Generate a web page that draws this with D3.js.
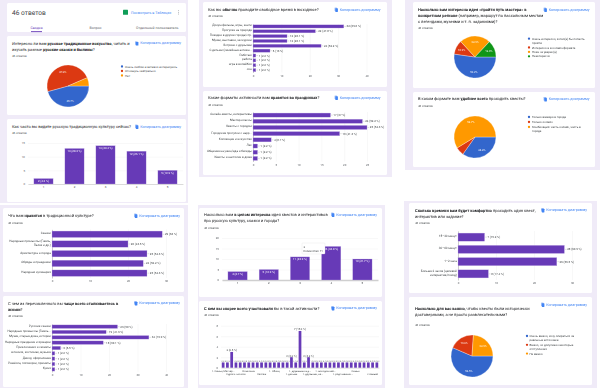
<!DOCTYPE html>
<html><head><meta charset="utf-8">
<script src="https://cdn.jsdelivr.net/npm/d3@7"></script>
<style>
html,body{margin:0;padding:0;background:#fff}
svg{display:block;font-family:Roboto,sans-serif;text-rendering:geometricPrecision;filter:blur(.3px)}
</style></head><body><svg id="c" width="600" height="388"></svg>
<script>
// ---------- data ----------
const responses = "46 ответов";
const copyLabel = "Копировать диаграмму";
const tabLabels = ["Сводка","Вопрос","Отдельный пользователь"];
const pieColors = ["#3366cc","#dc3912","#ff9900","#109618"];

const interestCats = ["Очень люблю и активно интересуюсь","Отношусь нейтрально","Нет"];
const interestVals = [45.7,47.8,6.5];
const masterCats = ["Очень интересно, хотел(а) бы попасть\nпройти","Интересно и в онлайн-формате","Пока не уверен(а)","Неинтересно"];
const masterVals = [52.2,10.9,23.9,13.0];
const formatCats = ["Только вживую в городе","Только онлайн","Комбинация: часть онлайн, часть в\nгороде"];
const formatVals = [34.8,6.5,58.7];
const accuracyCats = ["Очень важно, хочу опираться на\nреальные источники","Важно, но допускаю некоторые\nотступления","Не важно"];
const accuracyVals = [56.5,19.6,23.9];

const seeCats = ["1","2","3","4","5"];
const seeVals = [2,13,14,12,5];
const seePct = ["4.3","28.3","30.4","26.1","10.9"];
const questCats = ["1","2","3","4","5"];
const questVals = [4,5,11,16,10];
const questPct = ["8.7","10.9","23.9","34.8","21.7"];

const weekendCats = ["Докум.фильмы, игры, книги","Прогулки на природе","Поездки в другие города/стр.","Музеи, выставки, экскурсии","Встречи с друзьями","С детьми (семейные активн...","Работаю","работа","игра в волейбол","сон"];
const weekendVals = [32,22,12,12,24,6,1,1,1,1];
const weekendPct = ["69.6","47.8","26.1","26.1","52.2","13","2.2","2.2","2.2","2.2"];
const activityCats = ["Онлайн-квесты, интерактивы","Мастер-классы","Квесты с городом","Городские прогулки с нарр...","Коллекции и искусство","Лес","Общение на ужин/еда и беседы","Квесты и настолки в доме"];
const activityVals = [17,24,25,19,4,1,1,1];
const activityPct = ["37","52.2","54.3","41.3","8.7","2.2","2.2","2.2"];
const cultureCats = ["Сказки","Народные промыслы (Гжель,\nПалех и др.)","Архитектура и города","Обряды и праздники","Народная кулинария"];
const cultureVals = [29,20,25,24,25];
const culturePct = ["63","43.5","54.3","52.2","54.3"];
const meetCats = ["Русские сказки","Народные промыслы (Гжель...","Музеи, старые дома, истории","Народные праздники и ярмарки","Приключения и сюжеты","в песнях, костюмах, музыке","Декор, оформление","Ремёсла, поговорки, приметы","Кухня"];
const meetVals = [23,19,34,18,3,1,1,1,1];
const meetPct = ["50","41.3","73.9","39.1","6.5","2.2","2.2","2.2","2.2"];
const timeCats = ["15–30 минут","30–60 минут","1–2 часа","Больше 2 часов (целевой\nинтерактив/поход)"];
const timeVals = [7,28,26,8];
const timePct = ["15.2","60.9","56.5","17.4"];

const partnerCats = ["1. Семья, Мастер...","С друзьями","С детьми","Сдрасл. молоск","С семьёй","С парой","Компания","С коллегами","С подругой","Пассаж","С родителями","С классом","1. Облиц","С группой","Одна","С сестрой","1. детьми","С мужем","1. дружными в д...","С братом","С внуками","1. друзьями, на...","С гидом","С туристами","1. молодая ней...","С соседями","С женой","С ребёнком","1. родственник...","С коллективом","С клубом","Семья","С мамой","С близкими","С дочерью","с семьей","С сыном"];
const partnerVals = [1,1,3,1,1,1,1,1,1,1,1,1,1,1,1,1,2,1,7,1,2,1,1,1,1,1,1,1,1,1,1,1,1,1,1,1,1];
const partnerPct  = ["2.2","2.2","6.5","2.2","2.2","2.2","2.2","2.2","2.2","2.2","2.2","2.2","2.2","2.2","2.2","2.2","4.3","2.2","15.2","2.2","4.3","2.2","2.2","2.2","2.2","2.2","2.2","2.2","2.2","2.2","2.2","2.2","2.2","2.2","2.2","2.2","2.2"];
const partnerShown = [0,3,6,9,12,16,18,21,24,28,31,35];

const titleInterest = ["Интересно ли вам **русское традиционное искусство**, читать и","изучать разные **русские сказки и былины**?"];
const titleSee = ["Как часто вы видите русскую традиционную культуру сейчас?"];
const titleWeekend = ["Как вы **обычно** проводите свободное время в выходные?"];
const titleActivity = ["Какие форматы активности вам **нравятся во праздниках**?"];
const titleMaster = ["**Насколько вам интересна идея «пройти путь мастера» в**","**конкретном регионе** (например, маршрут по пасхальным местам","с легендами, музеями и т. п. заданиями)?"];
const titleFormat = ["В каком формате вам **удобнее всего** проходить квесты?"];
const titleCulture = ["Что вам **нравится** в традиционной культуре?"];
const titleMeet = ["С чем из перечисленного вы **чаще всего сталкиваетесь в**","**жизни**?"];
const titleQuest = ["Насколько вам **в целом интересна** идея квестов и интерактивов","про русскую культуру, сказки и города?"];
const titlePartner = ["**С кем вы скорее всего участвовали** бы в такой активности?"];
const titleTime = ["**Сколько времени вам будет комфортно** проходить один квест,","интерактив или задание?"];
const titleAccuracy = ["**Насколько для вас важно**, чтобы квесты были исторически","достоверными, а не просто развлекательными?"];

// ---------- helpers ----------
const svg = d3.select("#c");
const INK="#3c4043", SOFT="#70757a", AXIS="#5f6368", BLUE="#4285f4", BAR="#673ab7", LAV="#f0ebf8", GRID="#eeeeee";

function box(x,y,w,h,fill,r){ svg.append("rect").attr("x",x).attr("y",y).attr("width",w).attr("height",h).attr("rx",r||0).attr("fill",fill); }
function rich(x,y,line,size,color){
  const t=svg.append("text").attr("x",x).attr("y",y).attr("font-size",size).attr("fill",color);
  line.split("**").forEach((s,i)=>{ if(s) t.append("tspan").attr("font-weight",i%2?700:400).text(s); });
  return t;
}
function head(x,ys,lines,respY){
  lines.forEach((l,i)=>rich(x,ys+i*6.1,l,4.05,"#202124"));
  rich(x,respY,responses,2.9,INK);
}
function copy(x,y){
  box(x,y-3,2.6,3.6,"#a9c5f8",.4); box(x+.8,y-2.2,2.6,3.6,BLUE,.4);
  rich(x+5.2,y,copyLabel,3.7,BLUE);
}
function multi(sel,x,txt,lh){
  sel.text(null);
  const ls=txt.split("\n");
  ls.forEach((l,i)=>sel.append("tspan").attr("x",x).attr("dy",i? lh : -(ls.length-1)*lh/2).text(l));
}
function pie(cx,cy,r,vals,cats,lx,ly0,lstep,tx){
  const g=svg.append("g").attr("transform",`translate(${cx},${cy})`);
  const arcs=d3.pie().sort(null).startAngle(Math.PI/2).endAngle(Math.PI*2.5)(vals);
  const arc=d3.arc().innerRadius(0).outerRadius(r);
  const lab=d3.arc().innerRadius(r*.72).outerRadius(r*.72);
  g.selectAll("path").data(arcs).join("path").attr("d",arc).attr("fill",(d,i)=>pieColors[i]).attr("stroke","#fff").attr("stroke-width",.3);
  g.selectAll("text").data(arcs.filter(d=>d.data>=7)).join("text").attr("transform",d=>`translate(${lab.centroid(d)})`)
    .attr("text-anchor","middle").attr("dy",1).attr("font-size",2.7).attr("fill","#fff").text(d=>d.data.toFixed(1)+"%");
  let y=ly0;
  cats.forEach((c,i)=>{
    svg.append("circle").attr("cx",lx).attr("cy",y).attr("r",1.15).attr("fill",pieColors[i]);
    c.split("\n").forEach((l,j)=>rich(tx,y+1+j*4.3,l,2.95,INK));
    y+=lstep*c.split("\n").length;
  });
}
function hbars(x0,x1,top,bot,maxV,ticks,cats,vals,pct){
  const x=d3.scaleLinear().domain([0,maxV]).range([x0,x1]);
  const y=d3.scaleBand().domain(d3.range(cats.length)).range([top,bot]).paddingInner(.34).paddingOuter(.17);
  const g=svg.append("g");
  const ax=g.append("g").attr("transform",`translate(0,${bot})`).call(d3.axisBottom(x).tickValues(ticks).tickSize(-(bot-top)).tickPadding(2));
  ax.select(".domain").remove();
  ax.selectAll("line").attr("stroke",GRID).attr("stroke-width",.4);
  ax.selectAll("text").attr("font-size",2.9).attr("font-family","Roboto").attr("fill",AXIS);
  const ay=g.append("g").attr("transform",`translate(${x0},0)`).call(d3.axisLeft(y).tickSize(0).tickPadding(1.2).tickFormat(i=>cats[i]));
  ay.select(".domain").attr("stroke","#9e9e9e").attr("stroke-width",.5);
  ay.selectAll("text").attr("font-size",3).attr("font-family","Roboto").attr("fill",INK)
    .each(function(i){ multi(d3.select(this),-1.2,cats[i],3.6); });
  g.selectAll("rect.b").data(vals).join("rect").attr("class","b").attr("x",x0).attr("y",(d,i)=>y(i)).attr("width",d=>x(d)-x0).attr("height",y.bandwidth()).attr("fill",BAR).attr("stroke","#c5b4e6").attr("stroke-width",.3);
  g.selectAll("line.l").data(vals).join("line").attr("class","l").attr("x1",d=>x(d)+.5).attr("x2",d=>x(d)+2.2).attr("y1",(d,i)=>y(i)+y.bandwidth()/2).attr("y2",(d,i)=>y(i)+y.bandwidth()/2).attr("stroke","#9e9e9e").attr("stroke-width",.3);
  g.selectAll("text.v").data(vals).join("text").attr("class","v").attr("x",d=>x(d)+2.8).attr("y",(d,i)=>y(i)+y.bandwidth()/2+1).attr("font-size",2.9).attr("fill",INK).text((d,i)=>`${d} (${pct[i]} %)`);
}
function vbars(x0,x1,base,top,maxV,ticks,cats,vals,pct,thick){
  const y=d3.scaleLinear().domain([0,maxV]).range([base,top]);
  const x=d3.scaleBand().domain(cats).range([x0,x1]).paddingInner(.38).paddingOuter(.19);
  const g=svg.append("g");
  const ay=g.append("g").attr("transform",`translate(${x0},0)`).call(d3.axisLeft(y).tickValues(ticks).tickSize(-(x1-x0)).tickPadding(3));
  ay.select(".domain").remove();
  ay.selectAll("line").attr("stroke",GRID).attr("stroke-width",.4);
  ay.selectAll("text").attr("font-size",2.9).attr("font-family","Roboto").attr("fill",AXIS);
  const ax=g.append("g").attr("transform",`translate(0,${base})`).call(d3.axisBottom(x).tickSize(0).tickPadding(2.2));
  ax.select(".domain").attr("stroke",thick?"#cfcfcf":"#bdbdbd").attr("stroke-width",thick?1.4:.5);
  ax.selectAll("text").attr("font-size",2.9).attr("font-family","Roboto").attr("fill",INK);
  g.selectAll("rect.b").data(vals).join("rect").attr("class","b").attr("x",(d,i)=>x(cats[i])).attr("y",d=>y(d)).attr("width",x.bandwidth()).attr("height",d=>base-y(d)).attr("fill",BAR).attr("stroke","#c5b4e6").attr("stroke-width",.3);
  g.selectAll("text.v").data(vals).join("text").attr("class","v").attr("x",(d,i)=>x(cats[i])+x.bandwidth()/2).attr("y",d=>y(d)+3.3).attr("text-anchor","middle").attr("font-size",2.8).attr("fill","#fff").text((d,i)=>`${d} (${pct[i]} %)`);
  return {x,y};
}

// ---------- backgrounds ----------
box(0,0,188,203,LAV); box(199,0,193,177,LAV); box(405,0,195,170,LAV);
box(0,205,188,183,LAV); box(198,205,187,183,LAV); box(404,201,193,187,LAV);
[[7,3,179,29],[7,36,179,79],[7,119,179,83],[203,2,184,85],[203,91,184,84],[413,2,182,86],[413,92,182,75],
 [3,208,181,84],[3,296,181,91],[199,208,183,89],[199,301,183,84],[409,203,183,90],[409,297,183,88]]
 .forEach(c=>box(c[0],c[1],c[2],c[3],"#fff",1.5));

// ---------- header card ----------
rich(12,15.3,responses,6.6,INK);
box(123,9.7,5,5,"#0f9d58",.5);
rich(131,14,"Посмотреть в Таблицах",3.6,BLUE);
[10.8,12.4,14].forEach(y=>svg.append("circle").attr("cx",178.5).attr("cy",y).attr("r",.45).attr("fill",SOFT));
rich(30.5,29,tabLabels[0],3.5,BAR);
rich(89.5,29,tabLabels[1],3.5,AXIS);
rich(136,29,tabLabels[2],3.5,AXIS);
box(31,31.2,11,.9,BAR);

// ---------- charts ----------
head(12,44.6,titleInterest,56.5); copy(135,44.2);
pie(68,86,21,interestVals,interestCats,122,66.5,4.5,125);

head(12,127.6,titleSee,133.5); copy(135,127.5);
vbars(28,183,184,143,15,[0,5,10,15],seeCats,seeVals,seePct);

head(208,11,titleWeekend,17); copy(334.5,10.5);
hbars(253,366.5,24,72.5,40,[0,10,20,30,40],weekendCats,weekendVals,weekendPct);

head(208,99,titleActivity,105.5); copy(334.5,98.5);
hbars(253,367,112,161.5,25,[0,5,10,15,20,25],activityCats,activityVals,activityPct);

head(418,11,titleMaster,28.5); copy(543.5,10.5);
pie(475,57,21,masterVals,masterCats,529,38.7,4.4,532);

head(418,100,titleFormat,106.5); copy(543.5,100);
pie(475,137,21,formatVals,formatCats,529,117,5,532);

head(8,217,titleCulture,223.5); copy(134,216.5);
hbars(52,166,229.4,278,30,[0,10,20,30],cultureCats,cultureVals,culturePct);

head(8,304.5,titleMeet,317); copy(134,304);
hbars(52,166,324,372,40,[0,10,20,30,40],meetCats,meetVals,meetPct);

head(204,216,titleQuest,228.5); copy(331,215.5);
vbars(222,378,280,238,20,[0,5,10,15,20],questCats,questVals,questPct,true);
// hover tooltip on the third bar
box(302,243,23,11,"#fff",.8);
svg.append("rect").attr("x",302).attr("y",243).attr("width",23).attr("height",11).attr("rx",.8).attr("fill","none").attr("stroke","#ddd").attr("stroke-width",.3);
rich(303.5,247.5,questCats[2],2.7,INK);
rich(303.5,252,"Количество: "+questVals[2],2.7,INK);

head(204,309.5,titlePartner,316); copy(331,309);
(function(){
  const y=d3.scaleLinear().domain([0,8]).range([367.7,325.7]);
  const x=d3.scaleBand().domain(d3.range(partnerCats.length)).range([221,379]).paddingInner(.36).paddingOuter(.18);
  const g=svg.append("g");
  const ay=g.append("g").attr("transform","translate(221,0)").call(d3.axisLeft(y).tickValues([0,2,4,6,8]).tickSize(-158).tickPadding(3));
  ay.select(".domain").remove();
  ay.selectAll("line").attr("stroke",GRID).attr("stroke-width",.4);
  ay.selectAll("text").attr("font-size",2.9).attr("font-family","Roboto").attr("fill",AXIS);
  const ax=g.append("g").attr("transform","translate(0,367.7)").call(d3.axisBottom(x).tickValues(partnerShown).tickSize(0).tickPadding(1.4).tickFormat(i=>partnerCats[i]));
  ax.select(".domain").attr("stroke","#bdbdbd").attr("stroke-width",.4);
  ax.selectAll("text").attr("font-size",2.6).attr("font-family","Roboto").attr("fill",INK)
    .attr("dy",(d,i)=>i%2?"5.9":"2.7");
  g.selectAll("rect.b").data(partnerVals).join("rect").attr("class","b").attr("x",(d,i)=>x(i)).attr("y",d=>y(d)).attr("width",x.bandwidth()).attr("height",d=>367.7-y(d)).attr("fill",BAR);
  g.selectAll("text.v").data(partnerVals).join("text").attr("class","v").attr("x",(d,i)=>x(i)+x.bandwidth()/2).attr("y",d=>y(d)-.7).attr("text-anchor","middle").attr("font-size",d=>d>1?2.7:1.9).attr("fill",INK).text((d,i)=>d>1?`${d} (${partnerPct[i]} %)`:`${d} (${partnerPct[i]}`);
})();

head(415,212,titleTime,224); copy(541,211);
hbars(458,572,231,280,30,[0,10,20,30],timeCats,timeVals,timePct);

head(415,309.5,titleAccuracy,326); copy(541,305.5);
pie(472,356,21,accuracyVals,accuracyCats,527,336,4.4,529.5);
</script></body></html>
